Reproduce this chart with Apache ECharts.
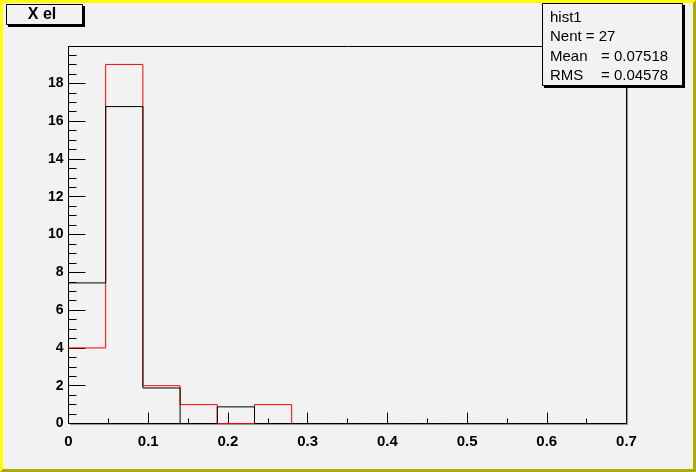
<!DOCTYPE html>
<html>
<head>
<meta charset="utf-8">
<script src="https://cdn.jsdelivr.net/npm/echarts@6/dist/echarts.min.js"></script>
<style>
html,body{margin:0;padding:0;background:#f2f2f2;}
#c{width:696px;height:472px;}
</style>
</head>
<body>
<div id="c"></div>
<script>
// Histogram definition
const xMin = 0;
const xMax = 0.7;
const yMax = 19.95;
// bin contents (15 bins over [0, 0.7])
const redCounts   = [4, 19, 2, 1, 0, 1, 0, 0, 0, 0, 0, 0, 0, 0, 0];
const blackCounts = [7.44, 16.77, 1.88, 0, 0.88, 0, 0, 0, 0, 0, 0, 0, 0, 0, 0];
const titleText = 'X el';
const statsName = 'hist1';
const statsLabels = ['Nent', 'Mean', 'RMS'];
const statsValues = ['27', '0.07518', '0.04578'];

function stepData(counts) {
  const w = (xMax - xMin) / counts.length;
  const d = counts.map((v, i) => [xMin + i * w, v]);
  d.push([xMax, counts[counts.length - 1]]);
  return d;
}

const chart = echarts.init(document.getElementById('c'), null, {renderer: 'canvas'});
const FONT = '"Liberation Sans", Arial, Helvetica, sans-serif';

chart.setOption({
  animation: false,
  backgroundColor: '#f2f2f2',
  grid: {left: 68.5, top: 46.5, width: 558, height: 377, show: true, borderColor: '#000', borderWidth: 1, backgroundColor: 'transparent'},
  xAxis: {
    type: 'value', min: xMin, max: xMax, interval: 0.1,
    axisLine: {lineStyle: {color: '#000', width: 1}},
    axisTick: {inside: true, length: 11, lineStyle: {color: '#000'}},
    minorTick: {show: true, splitNumber: 2, length: 5, lineStyle: {color: '#000'}},
    splitLine: {show: false},
    axisLabel: {color: '#000', fontFamily: FONT, fontWeight: 'bold', fontSize: 15, margin: 11,
      formatter: v => (Math.round(v * 10) / 10).toString()}
  },
  yAxis: {
    type: 'value', min: 0, max: yMax, interval: 2,
    axisLine: {show: true, lineStyle: {color: '#000', width: 1}},
    axisTick: {inside: true, length: 17, lineStyle: {color: '#000'}},
    minorTick: {show: true, splitNumber: 4, length: 8, lineStyle: {color: '#000'}},
    splitLine: {show: false},
    axisLabel: {color: '#000', fontFamily: FONT, fontWeight: 'bold', fontSize: 14, margin: 5, showMaxLabel: false}
  },
  series: [
    {type: 'line', step: 'end', data: stepData(redCounts), symbol: 'none',
      lineStyle: {color: '#ff0000', width: 1}, z: 2},
    {type: 'line', step: 'end', data: stepData(blackCounts), symbol: 'none',
      lineStyle: {color: '#000000', width: 1}, z: 3}
  ],
  graphic: [
    // canvas bevel border
    {type: 'polygon', silent: true, shape: {points: [[0,0],[696,0],[693,3],[3,3],[3,469],[0,472]]}, style: {fill: '#ffff00'}},
    {type: 'polygon', silent: true, shape: {points: [[696,0],[696,472],[0,472],[3,469],[693,469],[693,3]]}, style: {fill: '#acac00'}},
    // frame shadow
    {type: 'line', silent: true, shape: {x1: 70, y1: 424.5, x2: 628, y2: 424.5}, style: {stroke: '#9a9a9a', lineWidth: 1}},
    {type: 'line', silent: true, shape: {x1: 627.5, y1: 48, x2: 627.5, y2: 425}, style: {stroke: '#9a9a9a', lineWidth: 1}},
    // title box
    {type: 'rect', silent: true, shape: {x: 8, y: 6, width: 77, height: 21}, style: {fill: '#000'}},
    {type: 'rect', silent: true, shape: {x: 6.5, y: 4.5, width: 76, height: 20}, style: {fill: '#f2f2f2', stroke: '#000', lineWidth: 1}},
    {type: 'text', silent: true, style: {x: 42, y: 15, text: titleText, align: 'center', verticalAlign: 'middle', fill: '#000', font: 'bold 16px ' + FONT}},
    // stats box
    {type: 'rect', silent: true, shape: {x: 544, y: 5, width: 141, height: 83}, style: {fill: '#000'}},
    {type: 'rect', silent: true, shape: {x: 542.5, y: 3.5, width: 140, height: 82}, style: {fill: '#f2f2f2', stroke: '#000', lineWidth: 1}},
    {type: 'text', silent: true, style: {x: 550, y: 18, text: statsName, verticalAlign: 'middle', fill: '#000', font: '15px ' + FONT}},
    {type: 'text', silent: true, style: {x: 550, y: 37, text: statsLabels[0] + ' = ' + statsValues[0], verticalAlign: 'middle', fill: '#000', font: '15px ' + FONT}},
    {type: 'text', silent: true, style: {x: 550, y: 57, text: statsLabels[1], verticalAlign: 'middle', fill: '#000', font: '15px ' + FONT}},
    {type: 'text', silent: true, style: {x: 601, y: 57, text: '= ' + statsValues[1], verticalAlign: 'middle', fill: '#000', font: '15px ' + FONT}},
    {type: 'text', silent: true, style: {x: 550, y: 76, text: statsLabels[2], verticalAlign: 'middle', fill: '#000', font: '15px ' + FONT}},
    {type: 'text', silent: true, style: {x: 601, y: 76, text: '= ' + statsValues[2], verticalAlign: 'middle', fill: '#000', font: '15px ' + FONT}}
  ]
});
</script>
</body>
</html>
